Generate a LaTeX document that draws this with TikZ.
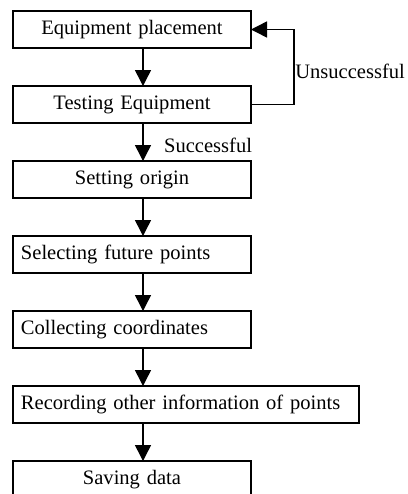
\documentclass[tikz,border=0pt]{standalone}
\usepackage{fontspec}
\setmainfont{Liberation Serif}
\usetikzlibrary{positioning,arrows.meta}
\tikzset{
  stepbox/.style={draw, line width=1.1pt, outer sep=0pt, minimum height=27.75pt, inner xsep=6pt,
    text width=166.5pt, align=center, font=\fontsize{15.4}{18}\selectfont},
  wide/.style={text width=247.5pt},
  flush/.style={align=left},
  flowarrow/.style={line width=1.1pt, -{Triangle[length=12pt,width=12pt]}},
  lbl/.style={font=\fontsize{15.4}{18}\selectfont}
}
\begin{document}
\begin{tikzpicture}[node distance=28.5pt]
            \useasboundingbox (0,0) rectangle (306pt,-370.5pt);
            \node (b1) [stepbox, anchor=north west] at (9.75pt,-8.25pt) {Equipment placement};
            \node (b2) [stepbox, below=of b1.south west, anchor=north west] {Testing Equipment};
            \node (b3) [stepbox, below=of b2.south west, anchor=north west] {Setting origin};
            \node (b4) [stepbox, flush, below=of b3.south west, anchor=north west] {Selecting future points};
            \node (b5) [stepbox, flush, below=of b4.south west, anchor=north west] {Collecting coordinates};
            \node (b6) [stepbox, wide, flush, below=of b5.south west, anchor=north west] {Recording other information of points};
            \node (b7) [stepbox, below=of b6.south west, anchor=north west] {Saving data};
            \coordinate (ax) at ([xshift=97.5pt]b1.west);
            \draw[flowarrow] (b1.south -| ax) to (b2.north -| ax);
            \draw[flowarrow] (b2.south -| ax) to node[lbl, right=12pt, pos=0.6] {Successful} (b3.north -| ax);
            \draw[flowarrow] (b3.south -| ax) to (b4.north -| ax);
            \draw[flowarrow] (b4.south -| ax) to (b5.north -| ax);
            \draw[flowarrow] (b5.south -| ax) to (b6.north -| ax);
            \draw[flowarrow] (b6.south -| ax) to (b7.north -| ax);
            \draw[flowarrow] (b2.east) -- ++(32.25pt,0) |- node[lbl, right, inner sep=0.5pt, pos=0.22] {Unsuccessful} (b1.east);
        \end{tikzpicture}
\end{document}
